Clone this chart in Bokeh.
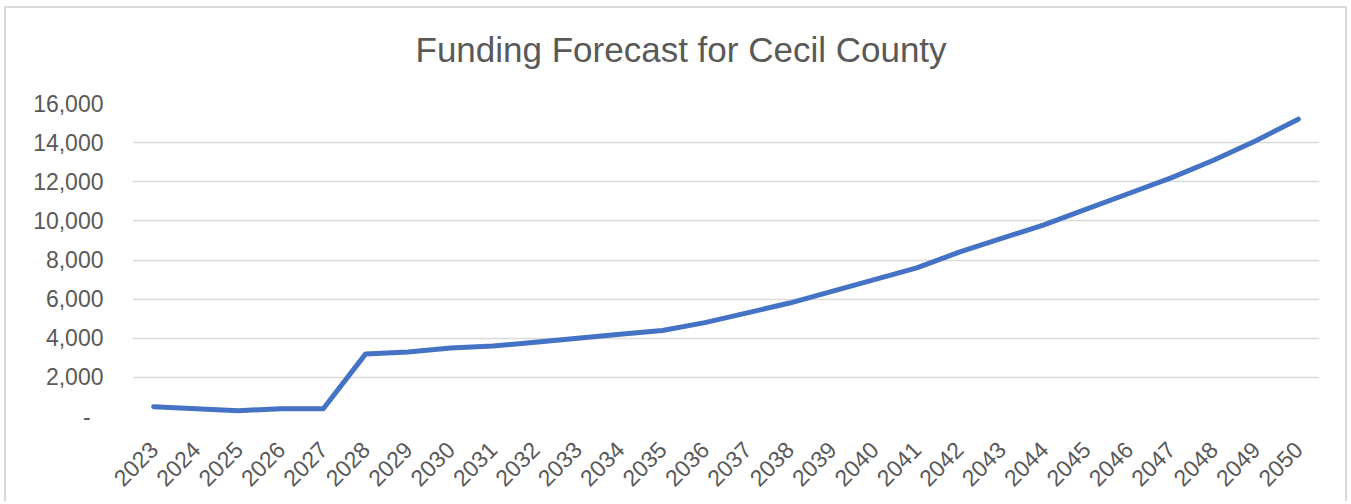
import math
from bokeh.plotting import figure
from bokeh.models import FixedTicker, Range1d, FactorRange
from bokeh.embed import file_html
from bokeh.resources import INLINE

title_text = "Funding Forecast for Cecil County"

years = ["2023", "2024", "2025", "2026", "2027", "2028", "2029", "2030", "2031", "2032",
         "2033", "2034", "2035", "2036", "2037", "2038", "2039", "2040", "2041", "2042",
         "2043", "2044", "2045", "2046", "2047", "2048", "2049", "2050"]

funding = [500, 400, 300, 400, 400, 3200, 3300, 3500, 3600, 3800,
           4000, 4200, 4400, 4800, 5300, 5800, 6400, 7000, 7600, 8400,
           9100, 9800, 10600, 11400, 12200, 13100, 14100, 15200]

y_ticks = [0, 2000, 4000, 6000, 8000, 10000, 12000, 14000, 16000]
y_tick_labels = ["-\u00a0\u00a0", "2,000", "4,000", "6,000", "8,000", "10,000", "12,000", "14,000", "16,000"]

TEXT = "#595959"
GRID = "#d9d9d9"
FONT = "Liberation Sans"

p = figure(x_range=FactorRange(*years), y_range=Range1d(0, 16000),
           width=1343, height=495, output_backend="svg", toolbar_location=None,
           min_border_left=126, min_border_right=30, min_border_top=95, min_border_bottom=87)

p.styles = {"border-left": "2px solid #d9d9d9", "border-top": "2px solid #d9d9d9",
            "border-right": "2px solid #d9d9d9", "margin-left": "4px", "margin-top": "6px"}

p.line(x=years, y=funding, line_color="#4472C4", line_width=5,
       line_join="round", line_cap="round")

p.title.text = title_text
p.title.align = "left"
p.title.offset = 283
p.title.text_font = FONT
p.title.text_font_size = "35px"
p.title.text_font_style = "normal"
p.title.text_color = TEXT
p.title.standoff = 30
p.title.padding = dict(left=0, right=0, top=0, bottom=20)

p.outline_line_color = None
p.xgrid.grid_line_color = None
p.ygrid.grid_line_color = GRID
p.ygrid.grid_line_width = 1.5

p.yaxis.ticker = FixedTicker(ticks=y_ticks)
p.yaxis.major_label_overrides = {t: l for t, l in zip(y_ticks, y_tick_labels)}
p.yaxis.axis_line_color = None
p.yaxis.major_tick_line_color = None
p.yaxis.minor_tick_line_color = None
p.yaxis.major_label_text_font = FONT
p.yaxis.major_label_text_font_size = "23px"
p.yaxis.major_label_text_color = TEXT
p.yaxis.major_label_standoff = 23

p.xaxis.axis_line_color = None
p.xaxis.major_tick_line_color = None
p.xaxis.minor_tick_line_color = None
p.xaxis.major_label_orientation = math.pi / 4
p.xaxis.major_label_text_font = FONT
p.xaxis.major_label_text_font_size = "23px"
p.xaxis.major_label_text_color = TEXT
p.xaxis.major_label_standoff = 23

open("out.html", "w").write(file_html(p, INLINE))
